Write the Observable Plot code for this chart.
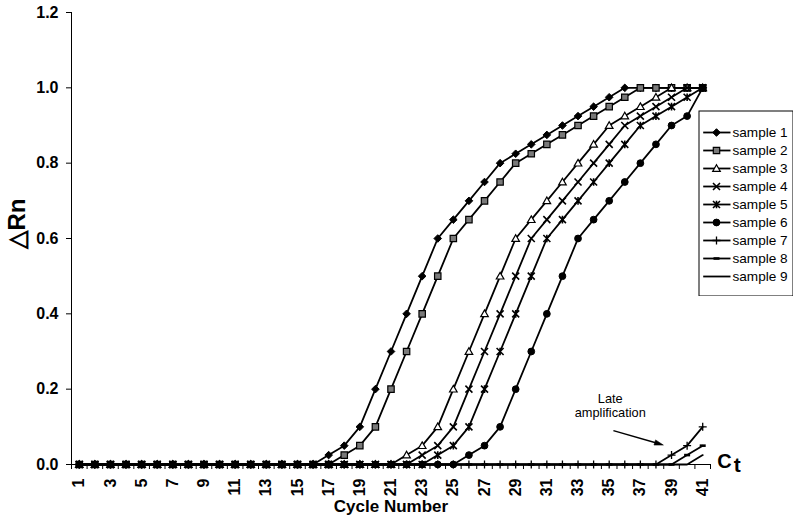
<!DOCTYPE html>
<html><head><meta charset="utf-8">
<script src="https://cdn.jsdelivr.net/npm/d3@7"></script>
<script src="https://cdn.jsdelivr.net/npm/@observablehq/plot@0.6"></script>
<style>
body{margin:0;background:#fff;}
#wrap{position:relative;width:800px;height:528px;font-family:Arial,"Liberation Sans",sans-serif;}
#legend{position:absolute;left:698px;top:110px;}
</style></head><body><div id="wrap"><div id="chart"></div><div id="legend"></div></div>
<script>
const cycles = [1,2,3,4,5,6,7,8,9,10,11,12,13,14,15,16,17,18,19,20,21,22,23,24,25,26,27,28,29,30,31,32,33,34,35,36,37,38,39,40,41];
const sampleNames = ["sample 1","sample 2","sample 3","sample 4","sample 5","sample 6","sample 7","sample 8","sample 9"];
const sample1 = [0,0,0,0,0,0,0,0,0,0,0,0,0,0,0,0,0.025,0.05,0.1,0.2,0.3,0.4,0.5,0.6,0.65,0.7,0.75,0.8,0.825,0.85,0.875,0.9,0.925,0.95,0.975,1,1,1,1,1,1];
const sample2 = [0,0,0,0,0,0,0,0,0,0,0,0,0,0,0,0,0,0.025,0.05,0.1,0.2,0.3,0.4,0.5,0.6,0.65,0.7,0.75,0.8,0.825,0.85,0.875,0.9,0.925,0.95,0.975,1,1,1,1,1];
const sample3 = [0,0,0,0,0,0,0,0,0,0,0,0,0,0,0,0,0,0,0,0,0,0.025,0.05,0.1,0.2,0.3,0.4,0.5,0.6,0.65,0.7,0.75,0.8,0.85,0.9,0.925,0.95,0.975,1,1,1];
const sample4 = [0,0,0,0,0,0,0,0,0,0,0,0,0,0,0,0,0,0,0,0,0,0,0.025,0.05,0.1,0.2,0.3,0.4,0.5,0.6,0.65,0.7,0.75,0.8,0.85,0.9,0.925,0.95,0.975,1,1];
const sample5 = [0,0,0,0,0,0,0,0,0,0,0,0,0,0,0,0,0,0,0,0,0,0,0,0.025,0.05,0.1,0.2,0.3,0.4,0.5,0.6,0.65,0.7,0.75,0.8,0.85,0.9,0.925,0.95,0.975,1];
const sample6 = [0,0,0,0,0,0,0,0,0,0,0,0,0,0,0,0,0,0,0,0,0,0,0,0,0,0.025,0.05,0.1,0.2,0.3,0.4,0.5,0.6,0.65,0.7,0.75,0.8,0.85,0.9,0.925,1];
const sample7 = [0,0,0,0,0,0,0,0,0,0,0,0,0,0,0,0,0,0,0,0,0,0,0,0,0,0,0,0,0,0,0,0,0,0,0,0,0,0,0.025,0.05,0.1];
const sample8 = [0,0,0,0,0,0,0,0,0,0,0,0,0,0,0,0,0,0,0,0,0,0,0,0,0,0,0,0,0,0,0,0,0,0,0,0,0,0,0,0.025,0.05];
const sample9 = [0,0,0,0,0,0,0,0,0,0,0,0,0,0,0,0,0,0,0,0,0,0,0,0,0,0,0,0,0,0,0,0,0,0,0,0,0,0,0,0,0.025];
const xTickLabels = [1,3,5,7,9,11,13,15,17,19,21,23,25,27,29,31,33,35,37,39,41];
const yTickValues = [0,0.2,0.4,0.6,0.8,1.0,1.2];
const yLabel = "\u25B3Rn";
const xLabel = "Cycle Number";
const noteText = "Late\namplification";

const series = [sample1,sample2,sample3,sample4,sample5,sample6,sample7,sample8,sample9];
const data = series.flatMap((vals,i)=>vals.map((v,j)=>({sample:sampleNames[i], cycle:cycles[j], value:v})));

function sym(fn){return {draw(c,size){const r=Math.sqrt(size/Math.PI);fn(c,r);}};}
const diamond = sym((c,r)=>{c.moveTo(0,-r);c.lineTo(r,0);c.lineTo(0,r);c.lineTo(-r,0);c.closePath();});
const square = sym((c,r)=>{c.rect(-r,-r,2*r,2*r);});
const triangle = sym((c,r)=>{c.moveTo(0,-r);c.lineTo(r,r*0.75);c.lineTo(-r,r*0.75);c.closePath();});
const times = sym((c,r)=>{c.moveTo(-r,-r);c.lineTo(r,r);c.moveTo(-r,r);c.lineTo(r,-r);});
const star = sym((c,r)=>{c.moveTo(-r,-r);c.lineTo(r,r);c.moveTo(-r,r);c.lineTo(r,-r);c.moveTo(0,-r*1.1);c.lineTo(0,r*1.1);});
const circle = sym((c,r)=>{c.moveTo(r,0);c.arc(0,0,r,0,2*Math.PI);});
const plus = sym((c,r)=>{c.moveTo(-r,0);c.lineTo(r,0);c.moveTo(0,-r);c.lineTo(0,r);});
const dash = sym((c,r)=>{c.rect(-r,-1.3,2*r,2.6);});
const head = sym((c,r)=>{c.moveTo(r,0);c.lineTo(-r,-r*0.6);c.lineTo(-r,r*0.6);c.closePath();});

const styles = [
  {symbol:diamond, fill:"black", stroke:"black", r:3.8, sw:1},
  {symbol:square, fill:"#7a7a7a", stroke:"black", r:3.2, sw:1.2},
  {symbol:triangle, fill:"white", stroke:"black", r:3.8, sw:1.2},
  {symbol:times, fill:"none", stroke:"black", r:3.5, sw:1.6},
  {symbol:star, fill:"none", stroke:"black", r:3.5, sw:1.6},
  {symbol:circle, fill:"black", stroke:"black", r:3.4, sw:1},
  {symbol:plus, fill:"none", stroke:"black", r:4, sw:1.3},
  {symbol:dash, fill:"black", stroke:"none", r:3, sw:0},
  null
];

const font = 'Arial, "Liberation Sans", sans-serif';
const marks = [
  Plot.axisY({ticks:yTickValues, tickFormat:d3.format(".1f"), tickSize:5, tickPadding:8, fontSize:16, fontWeight:"bold", label:null}),
  Plot.axisX({ticks:d3.range(0.5,42,1), tickSize:5, tickFormat:()=>"", label:null}),
  Plot.axisX({ticks:xTickLabels, tickSize:0, tickPadding:14, tickRotate:-90, fontSize:16, fontWeight:"bold", label:null}),
  Plot.ruleX([0.5],{y1:0, y2:1.2, stroke:"black", strokeWidth:1}),
  Plot.ruleY([0],{x1:0.5, x2:41.5, stroke:"black", strokeWidth:1.2})
];
sampleNames.forEach((name,i)=>{
  const d = data.filter(r=>r.sample===name);
  marks.push(Plot.line(d,{x:"cycle", y:"value", stroke:"black", strokeWidth:1.8}));
  const s = styles[i];
  if (s) marks.push(Plot.dot(d,{x:"cycle", y:"value", symbol:()=>s.symbol, r:s.r, fill:s.fill, stroke:s.stroke, strokeWidth:s.sw}));
});
marks.push(
  Plot.text([yLabel],{frameAnchor:"left", dx:-54, dy:10, rotate:-90, fontSize:24, fontWeight:"bold", fill:"black"}),
  Plot.text([xLabel],{frameAnchor:"bottom", dy:47, fontSize:17, fontWeight:"bold", fill:"black"}),
  Plot.text([noteText],{x:[35.07], y:[0.157], fontSize:12.8, lineHeight:1.15, fill:"black"}),
  Plot.link([0],{x1:[35.27], y1:[0.09], x2:[38.2], y2:[0.055], stroke:"black", strokeWidth:1.5}),
  Plot.dot([0],{x:[38.2], y:[0.055], symbol:()=>head, r:4.5, rotate:17, fill:"black", stroke:"black", strokeWidth:0.5}),
  Plot.text(["C"],{x:[42.39], y:[0.007], fontSize:20, fontWeight:"bold", fill:"black"}),
  Plot.text(["t"],{x:[43.22], y:[-0.002], fontSize:21, fontWeight:"bold", fill:"black"})
);

const chart = Plot.plot({
  width:800, height:528,
  marginTop:12, marginBottom:64, marginLeft:71, marginRight:90,
  x:{domain:[0.5,41.5]},
  y:{domain:[0,1.2]},
  style:{fontFamily:font, color:"black", background:"white", overflow:"visible"},
  marks
});
document.getElementById("chart").append(chart);

// legend
const legendMarks = [Plot.frame({stroke:"black", strokeWidth:1, inset:0.5})];
sampleNames.forEach((name,i)=>{
  legendMarks.push(Plot.link([name],{x1:4.7, x2:32, y1:d=>d, y2:d=>d, stroke:"black", strokeWidth:1.8}));
  const s = styles[i];
  if (s) legendMarks.push(Plot.dot([name],{x:18, y:d=>d, symbol:()=>s.symbol, r:s.r, fill:s.fill, stroke:s.stroke, strokeWidth:s.sw}));
});
legendMarks.push(Plot.text(sampleNames,{x:34, y:d=>d, text:d=>d, textAnchor:"start", fontSize:13.6, fill:"black"}));
const legend = Plot.plot({
  width:95, height:186, margin:0,
  x:{domain:[0,95], range:[0,95], axis:null},
  y:{type:"point", domain:sampleNames, range:[12,176], axis:null},
  style:{fontFamily:font, color:"black", background:"white"},
  marks:legendMarks
});
document.getElementById("legend").append(legend);
</script></body></html>
